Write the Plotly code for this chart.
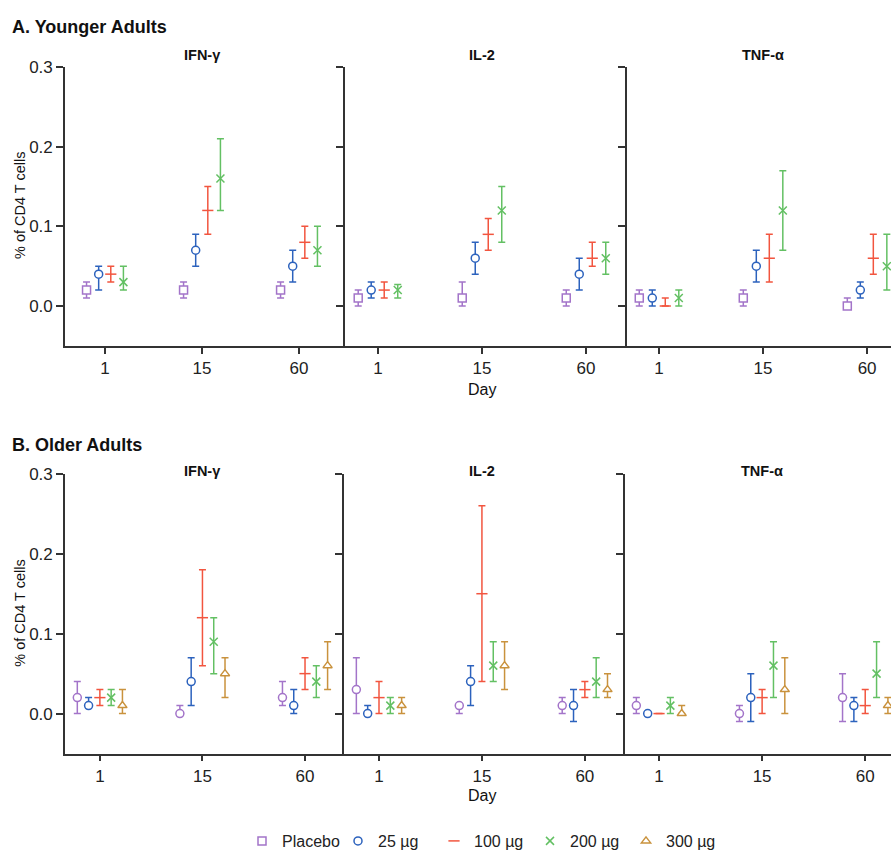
import plotly.graph_objects as go

W, H = 891, 858

days = ["1", "15", "60"]
cytokines = ["IFN-γ", "IL-2", "TNF-α"]
groups_young = ["Placebo", "25 µg", "100 µg", "200 µg"]
groups_old = ["Placebo", "25 µg", "100 µg", "200 µg", "300 µg"]

# ---- A. Younger adults (rows = groups, cols = days 1, 15, 60) ----
young_ifng_mean = [[0.02, 0.02, 0.02], [0.04, 0.07, 0.05], [0.04, 0.12, 0.08], [0.03, 0.16, 0.07]]
young_ifng_lo   = [[0.01, 0.01, 0.01], [0.02, 0.05, 0.03], [0.03, 0.09, 0.06], [0.02, 0.12, 0.05]]
young_ifng_hi   = [[0.03, 0.03, 0.03], [0.05, 0.09, 0.07], [0.05, 0.15, 0.10], [0.05, 0.21, 0.10]]

young_il2_mean = [[0.01, 0.01, 0.01], [0.02, 0.06, 0.04], [0.02, 0.09, 0.06], [0.02, 0.12, 0.06]]
young_il2_lo   = [[0.00, 0.00, 0.00], [0.01, 0.04, 0.02], [0.01, 0.07, 0.05], [0.01, 0.08, 0.04]]
young_il2_hi   = [[0.02, 0.03, 0.02], [0.03, 0.08, 0.06], [0.03, 0.11, 0.08], [0.027, 0.15, 0.08]]

young_tnfa_mean = [[0.01, 0.01, 0.00], [0.01, 0.05, 0.02], [0.00, 0.06, 0.06], [0.01, 0.12, 0.05]]
young_tnfa_lo   = [[0.00, 0.00, 0.00], [0.00, 0.03, 0.01], [0.00, 0.03, 0.04], [0.00, 0.07, 0.02]]
young_tnfa_hi   = [[0.02, 0.02, 0.01], [0.02, 0.07, 0.03], [0.01, 0.09, 0.09], [0.02, 0.17, 0.09]]

# ---- B. Older adults ----
old_ifng_mean = [[0.02, 0.00, 0.02], [0.01, 0.04, 0.01], [0.02, 0.12, 0.05], [0.02, 0.09, 0.04], [0.01, 0.05, 0.06]]
old_ifng_lo   = [[0.00, 0.00, 0.01], [0.01, 0.01, 0.00], [0.01, 0.06, 0.03], [0.01, 0.05, 0.02], [0.00, 0.02, 0.03]]
old_ifng_hi   = [[0.04, 0.01, 0.04], [0.02, 0.07, 0.03], [0.03, 0.18, 0.07], [0.03, 0.12, 0.06], [0.03, 0.07, 0.09]]

old_il2_mean = [[0.03, 0.01, 0.01], [0.00, 0.04, 0.01], [0.02, 0.15, 0.03], [0.01, 0.06, 0.04], [0.01, 0.06, 0.03]]
old_il2_lo   = [[0.00, 0.00, 0.00], [0.00, 0.01, -0.01], [0.00, 0.04, 0.02], [0.00, 0.04, 0.02], [0.00, 0.03, 0.02]]
old_il2_hi   = [[0.07, 0.01, 0.02], [0.01, 0.06, 0.03], [0.04, 0.26, 0.04], [0.02, 0.09, 0.07], [0.02, 0.09, 0.05]]

old_tnfa_mean = [[0.01, 0.00, 0.02], [0.00, 0.02, 0.01], [0.00, 0.02, 0.01], [0.01, 0.06, 0.05], [0.00, 0.03, 0.01]]
old_tnfa_lo   = [[0.00, -0.01, -0.01], [0.00, -0.01, -0.01], [0.00, 0.00, 0.00], [0.00, 0.02, 0.02], [0.00, 0.00, 0.00]]
old_tnfa_hi   = [[0.02, 0.01, 0.05], [0.00, 0.05, 0.02], [0.00, 0.03, 0.03], [0.02, 0.09, 0.09], [0.01, 0.07, 0.02]]

y_ticks = [0.0, 0.1, 0.2, 0.3]

# ---- styles ----
colors = {"Placebo": "#a374c9", "25 µg": "#2c62bd", "100 µg": "#f2553f",
          "200 µg": "#63c063", "300 µg": "#c9923d"}
sym_young = {"Placebo": "square", "25 µg": "circle", "100 µg": "line-ew",
             "200 µg": "x-thin", "300 µg": "triangle-up"}
sym_old = dict(sym_young, Placebo="circle")
filled = {"square", "circle", "triangle-up"}
off_young = [-0.19, -0.065, 0.06, 0.19]
off_old = [-0.22, -0.11, 0.0, 0.11, 0.22]

FONT = "Liberation Sans Narrow, Arial Narrow, Liberation Sans, Arial, sans-serif"
BOLD = "Liberation Sans, Arial, sans-serif"
AX = "#333333"

panels = [
    # (row, col, groups, mean, lo, hi, xdomain px, xrange)
    (0, 0, groups_young, young_ifng_mean, young_ifng_lo, young_ifng_hi, (65, 345), (-0.412, 2.474)),
    (0, 1, groups_young, young_il2_mean, young_il2_lo, young_il2_hi, (345, 627), (-0.317, 2.394)),
    (0, 2, groups_young, young_tnfa_mean, young_tnfa_lo, young_tnfa_hi, (627, 891), (-0.308, 2.23)),
    (1, 0, groups_old, old_ifng_mean, old_ifng_lo, old_ifng_hi, (65, 344), (-0.34, 2.38)),
    (1, 1, groups_old, old_il2_mean, old_il2_lo, old_il2_hi, (344, 625), (-0.34, 2.39)),
    (1, 2, groups_old, old_tnfa_mean, old_tnfa_lo, old_tnfa_hi, (625, 891), (-0.33, 2.25)),
]
row_ydom_px = [(59, 342), (472, 756)]

fig = go.Figure()
layout = {}
legend_done = set()

for i, (row, col, groups, mean, lo, hi, xd, xr) in enumerate(panels):
    n = i + 1
    xa = "x" if n == 1 else f"x{n}"
    ya = "y" if n == 1 else f"y{n}"
    offs = off_young if row == 0 else off_old
    syms = sym_young if row == 0 else sym_old
    for g, grp in enumerate(groups):
        xs = [d + offs[g] for d in range(len(days))]
        up = [h - m for h, m in zip(hi[g], mean[g])]
        dn = [m - l for m, l in zip(mean[g], lo[g])]
        sym = syms[grp]
        c = colors[grp]
        show = grp not in legend_done and (grp != "Placebo" or row == 0)
        if show:
            legend_done.add(grp)
        fig.add_trace(go.Scatter(
            x=xs, y=mean[g], mode="markers", name=grp,
            xaxis=xa, yaxis=ya, showlegend=show, legendrank=groups_old.index(grp) + 1,
            marker=dict(symbol=sym, size=8,
                        color="white" if sym in filled else c,
                        line=dict(color=c, width=1.5)),
            error_y=dict(type="data", symmetric=False, array=up, arrayminus=dn,
                         color=c, thickness=1.5, width=3.5),
            cliponaxis=False,
        ))
    yd = row_ydom_px[row]
    layout["xaxis" if n == 1 else f"xaxis{n}"] = dict(
        domain=[xd[0] / W, xd[1] / W], range=list(xr), anchor=ya,
        tickvals=list(range(len(days))), ticktext=days,
        showline=True, linecolor=AX, linewidth=1.6, ticks="outside", ticklen=6,
        tickwidth=1.5, tickcolor=AX, showgrid=False, zeroline=False,
        tickfont=dict(family=FONT, size=17, color="#222"), fixedrange=True,
    )
    layout["yaxis" if n == 1 else f"yaxis{n}"] = dict(
        domain=[1 - yd[1] / H, 1 - yd[0] / H], range=[-0.05, 0.3], anchor=xa,
        tickvals=y_ticks, ticktext=[f"{v:.1f}" for v in y_ticks],
        showticklabels=(col == 0),
        showline=True, linecolor=AX, linewidth=1.6, ticks="outside", ticklen=7,
        tickwidth=1.5, tickcolor=AX, showgrid=False, zeroline=False,
        tickfont=dict(family=FONT, size=17, color="#222"), fixedrange=True,
    )

annotations = []
def ann(text, x, y, xref="paper", size=18, bold=False, angle=0, xanchor="center"):
    annotations.append(dict(
        text=f"<b>{text}</b>" if bold else text, x=x, y=y, xref=xref, yref="paper",
        showarrow=False, xanchor=xanchor, yanchor="middle", textangle=angle,
        font=dict(family=BOLD if bold else FONT, size=size, color="#111")))

ann("A. Younger Adults", 10 / W, 1 - 18 / H, size=18, bold=True, xanchor="left")
ann("B. Older Adults", 10 / W, 1 - 443 / H, size=18, bold=True, xanchor="left")
title_y = [47, 469]
for i, (row, col, *_rest) in enumerate(panels):
    n = i + 1
    ann(cytokines[col], 1, 1 - title_y[row] / H, xref="x" if n == 1 else f"x{n}", size=14.5, bold=True)
ann("Day", 1, 1 - 386 / H, xref="x2", size=16)
ann("Day", 1, 1 - 799 / H, xref="x5", size=16)
ann("% of CD4 T cells", 20 / W, 1 - 200 / H, size=14.5, angle=-90)
ann("% of CD4 T cells", 20 / W, 1 - 614 / H, size=14.5, angle=-90)

fig.update_layout(
    width=W, height=H, margin=dict(l=0, r=0, t=0, b=0),
    plot_bgcolor="white", paper_bgcolor="white",
    showlegend=True,
    legend=dict(orientation="h", x=242 / W, xanchor="left", y=1 - 845 / H, yanchor="middle",
                font=dict(family=FONT, size=16, color="#222"), entrywidth=51,
                itemwidth=30, traceorder="normal", bgcolor="rgba(0,0,0,0)"),
    annotations=annotations,
    **layout,
)

fig.write_html("out.html")
